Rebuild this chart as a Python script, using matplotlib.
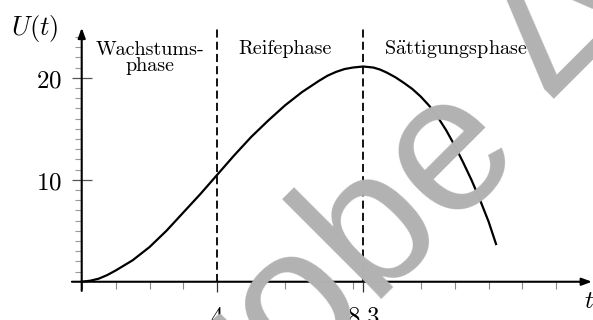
import matplotlib
matplotlib.use("Agg")
import matplotlib.pyplot as plt

plt.rcParams['mathtext.fontset'] = 'cm'
plt.rcParams['lines.scale_dashes'] = False

# curve U(t)
t_vals = [0, 0.25, 0.5, 0.75, 1, 1.5, 2, 2.5, 3, 3.5, 4, 4.5, 5, 5.5, 6, 6.5, 7,
          7.25, 7.5, 7.75, 8, 8.3, 8.6, 8.8, 9, 9.25, 9.5, 9.75, 10, 10.25, 10.5,
          10.75, 11, 11.25, 11.5, 11.75, 12, 12.22]
u_vals = [0, 0.1, 0.3, 0.65, 1.1, 2.1, 3.4, 5.0, 6.8, 8.6, 10.5, 12.4, 14.2, 15.8,
          17.3, 18.6, 19.7, 20.2, 20.57, 20.85, 21.0, 21.1, 21.0, 20.8, 20.5, 20.05,
          19.5, 18.9, 18.15, 17.25, 16.15, 14.85, 13.35, 11.7, 9.95, 8.0, 5.9, 3.7]

phase_bounds = [4, 8.3]
x_tick_labels = ['4', '8.3']
y_major = [10, 20]
y_labels = ['10', '20']
x_minor = list(range(0, 15))
y_minor = list(range(1, 25))

fig = plt.figure(figsize=(5.93, 3.2), dpi=100)
ax = fig.add_axes([0, 0, 1, 1])
ax.set_xlim(-2.41, 15.08)
ax.set_ylim(-3.75, 27.62)

for side in ['top', 'right']:
    ax.spines[side].set_visible(False)
for side in ['left', 'bottom']:
    ax.spines[side].set_position(('data', 0))
    ax.spines[side].set_color('none')

# ticks
ax.set_xticks(phase_bounds, labels=['$%s$' % s for s in x_tick_labels])
ax.set_xticks(x_minor, minor=True)
ax.set_yticks(y_major, labels=['$%s$' % s for s in y_labels])
ax.set_yticks(y_minor, minor=True)
ax.tick_params(axis='x', which='major', direction='out', length=7.5, width=0.9,
               color='#333333', labelsize=18, pad=9)
ax.tick_params(axis='x', which='minor', direction='out', length=5, width=0.8,
               color='#888888')
ax.tick_params(axis='y', which='major', direction='inout', length=14, width=0.9,
               color='#555555', labelsize=18, pad=7)
ax.tick_params(axis='y', which='minor', direction='out', length=5, width=0.8,
               color='#999999')

# axes with arrows
arrow = dict(arrowstyle='-|>,head_length=0.6,head_width=0.22', color='black',
             lw=1.5, shrinkA=0, shrinkB=0)
ax.annotate('', xy=(15.05, 0), xytext=(-0.29, 0), arrowprops=arrow, zorder=4)
ax.annotate('', xy=(0, 24.9), xytext=(0, -0.9), arrowprops=arrow, zorder=4)

# phase boundaries
for tb in phase_bounds:
    ax.plot([tb, tb], [0, 24.9], color='black', lw=1.3, linestyle=(0, (5.8, 3.0)),
            zorder=3)

ax.plot(t_vals, u_vals, color='black', lw=1.6, zorder=3, solid_joinstyle='round')

# labels
txt = dict(family='cmr10', fontsize=14.5, color='black', ha='center', va='baseline')
ax.text(2.01, 22.25, 'Wachstums-', **txt)
ax.text(2.01, 20.65, 'phase', **txt)
ax.text(6.01, 22.3, 'Reifephase', **txt)
ax.text(11.03, 22.3, r'S$\ddot{\mathrm{a}}$ttigungsphase', **txt)
ax.text(-1.4, 24.8, '$U(t)$', fontsize=19, ha='center', va='center')
ax.text(14.8, -1.9, '$t$', fontsize=18, ha='left', va='center')

# watermark
wm = dict(family='Liberation Sans', fontsize=140, color='#b2b2b2', rotation=45,
          rotation_mode='anchor', ha='left', va='baseline', zorder=0.5)
fig.text(155 / 593, 1 - 511 / 320, 'Probe', **wm)
fig.text(548 / 593, 1 - 99 / 320, '\u0394', **wm)

fig.savefig('out.png', dpi=100)
